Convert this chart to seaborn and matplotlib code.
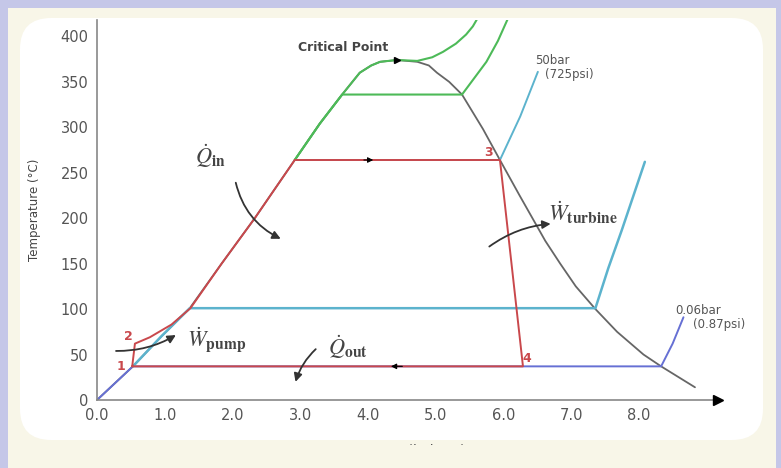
import numpy as np
import pandas as pd
import seaborn as sns
import matplotlib.pyplot as plt
from matplotlib.patches import FancyBboxPatch, Rectangle

# saturation dome (entropy kJ/kg K, temperature C)
dome_s = [0.0, 0.53, 0.95, 1.37, 1.84, 2.33, 2.56, 2.92, 3.29, 3.62, 3.88, 4.05, 4.18, 4.43,
          4.73, 4.90, 5.02, 5.20, 5.39, 5.70, 5.95, 6.24, 6.43, 6.62, 6.84, 7.07, 7.36,
          7.68, 8.07, 8.33, 8.83]
dome_T = [0, 37, 70, 101, 150, 200, 225, 264, 304, 336, 360, 368, 372, 374,
          372, 368, 360, 350, 336, 298, 264, 225, 200, 175, 150, 125, 100,
          75, 50, 37, 14]

# isobars
p006_s = [0.0, 0.53, 8.33, 8.50, 8.66]
p006_T = [0, 37, 37, 62, 91]
p1_s = [0.53, 0.95, 1.37, 7.36, 7.55, 7.75, 8.09]
p1_T = [37, 70, 101, 101, 145, 187, 262]
p50_s = [2.92, 5.95, 6.25, 6.51]
p50_T = [264, 264, 312, 361]
p150_s = [2.92, 3.29, 3.62, 5.39, 5.55, 5.75, 5.92, 6.07]
p150_T = [264, 304, 336, 336, 352, 372, 395, 420]
psc_s = [2.92, 3.29, 3.62, 3.88, 4.05, 4.18, 4.43, 4.73, 4.95, 5.11, 5.30, 5.45, 5.55, 5.62]
psc_T = [264, 304, 336, 360, 368, 372, 374, 373, 377, 383, 392, 402, 411, 420]

# Rankine cycle 1-2-3-4-1
cycle_s = [0.52, 0.56, 0.78, 1.10, 1.38, 1.84, 2.33, 2.56, 2.92, 5.95, 6.29, 0.52]
cycle_T = [37, 62, 69, 83, 101, 150, 200, 225, 264, 264, 37, 37]
state_labels = ["1", "2", "3", "4"]
state_pos = [(0.35, 37), (0.46, 70), (5.78, 272), (6.35, 46)]

xticks = [0, 1, 2, 3, 4, 5, 6, 7, 8]
yticks = [0, 50, 100, 150, 200, 250, 300, 350, 400]

RED = "#c9484c"
CYAN = "#5cb3cd"
BLUE = "#6670d4"
GREEN = "#4dba58"
GREY = "#666666"
CREAM = "#f8f6e8"
LAV = "#c5c7e8"

sns.set_theme(style="white")
plt.rcParams['font.family'] = ['DejaVu Sans']
plt.rcParams['mathtext.fontset'] = 'stix'

W, H = 781, 468
fig = plt.figure(figsize=(W / 100, H / 100), dpi=100, facecolor=CREAM)

# frame: lavender strips + white rounded panel
for (x0, y0, w, h) in [(0, 0, 8, H), (0, H - 8, W, 8), (W - 5, 0, 5, H)]:
    fig.patches.append(Rectangle((x0 / W, y0 / H), w / W, h / H, transform=fig.transFigure,
                                 facecolor=LAV, edgecolor="none", zorder=-5))
fig.patches.append(FancyBboxPatch((20 / W, (H - 440) / H), (763 - 20) / W, (440 - 18) / H,
                                  boxstyle="round,pad=0,rounding_size=0.04",
                                  transform=fig.transFigure, facecolor="white",
                                  edgecolor="none", zorder=-4, mutation_aspect=W / H))

ax = fig.add_axes([97 / W, 1 - 400 / H, (718 - 97) / W, (400 - 20) / H])
ax.set_facecolor("none")

def line(s, T, color, lw=1.4, z=2):
    sns.lineplot(x=s, y=T, sort=False, estimator=None, color=color, lw=lw, ax=ax, zorder=z)

line(dome_s, dome_T, GREY, 1.3, 1)
line(p006_s, p006_T, BLUE)
line(p1_s, p1_T, CYAN, 1.8)
line(p50_s, p50_T, CYAN, 1.4)
line(p150_s, p150_T, GREEN, 1.5)
line(psc_s, psc_T, GREEN, 1.5)
line(cycle_s, cycle_T, RED, 1.4, 3)

# critical point marker
ax.plot([4.43], [374], marker=">", color="black", ms=4, zorder=5)

# flow arrows on cycle
ax.annotate("", xy=(4.12, 264), xytext=(3.9, 264),
            arrowprops=dict(arrowstyle="-|>", color="black", lw=0.8, mutation_scale=8), zorder=5)
ax.annotate("", xy=(4.3, 37), xytext=(4.55, 37),
            arrowprops=dict(arrowstyle="-|>", color="black", lw=0.8, mutation_scale=8), zorder=5)

# state numbers
for lab, (sx, sy) in zip(state_labels, state_pos):
    ax.text(sx, sy, lab, color=RED, fontsize=9, fontweight="bold", ha="center", va="center")

# heat / work annotations
arrow_kw = dict(arrowstyle="-|>", color="#333333", lw=1.3, mutation_scale=12)
ax.annotate("", xy=(2.75, 176), xytext=(2.04, 242),
            arrowprops=dict(connectionstyle="arc3,rad=0.25", **arrow_kw))
ax.annotate("", xy=(6.74, 194), xytext=(5.76, 167),
            arrowprops=dict(connectionstyle="arc3,rad=-0.15", **arrow_kw))
ax.annotate("", xy=(1.2, 73), xytext=(0.24, 54),
            arrowprops=dict(connectionstyle="arc3,rad=0.15", **arrow_kw))
ax.annotate("", xy=(2.92, 17), xytext=(3.26, 58),
            arrowprops=dict(connectionstyle="arc3,rad=0.15", **arrow_kw))

txt = dict(color="#444444", fontsize=16)
ax.text(1.67, 268, r"$\dot{Q}_{\mathbf{in}}$", ha="center", va="center", **txt)
ax.text(6.66, 206, r"$\dot{W}_{\mathbf{turbine}}$", ha="left", va="center", **txt)
ax.text(1.33, 66, r"$\dot{W}_{\mathbf{pump}}$", ha="left", va="center", **txt)
ax.text(3.41, 58, r"$\dot{Q}_{\mathbf{out}}$", ha="left", va="center", **txt)

ax.text(3.63, 388, "Critical Point", ha="center", va="center", fontsize=9,
        fontweight="bold", color="#444444")
ax.text(6.47, 373, "50bar", fontsize=8.5, color="#555555", va="center")
ax.text(6.62, 358, "(725psi)", fontsize=8.5, color="#555555", va="center")
ax.text(8.54, 99, "0.06bar", fontsize=8.5, color="#555555", va="center")
ax.text(8.8, 83, "(0.87psi)", fontsize=8.5, color="#555555", va="center")

# axes styling
ax.set_xlim(0, 9.17)
ax.set_ylim(0, 418)
ax.set_xticks(xticks)
ax.set_xticklabels([f"{v:.1f}" for v in xticks])
ax.set_yticks(yticks)
for side in ["top", "right"]:
    ax.spines[side].set_visible(False)
for side in ["left", "bottom"]:
    ax.spines[side].set_color("#888888")
    ax.spines[side].set_linewidth(1.2)
ax.tick_params(axis="both", length=3, width=0.8, color="#888888", labelsize=10.5,
               labelcolor="#555555", pad=3)
ax.tick_params(axis="x", direction="in", pad=6)
ax.plot(1, 0, ">", color="black", ms=7, transform=ax.transAxes, clip_on=False, zorder=6)
ax.set_ylabel("Temperature (\u00b0C)", fontsize=8.5, color="#444444", labelpad=14)
ax.set_xlabel("Entropy (kJ/kg K)", fontsize=10, color="#555555", labelpad=15)

# cut off the x label, like the original panel edge
fig.patches.append(Rectangle((0.25, 0), 0.5, (H - 445) / H, transform=fig.transFigure,
                             facecolor=CREAM, edgecolor="none", zorder=10))

fig.savefig("out.png", dpi=100, facecolor=CREAM)
